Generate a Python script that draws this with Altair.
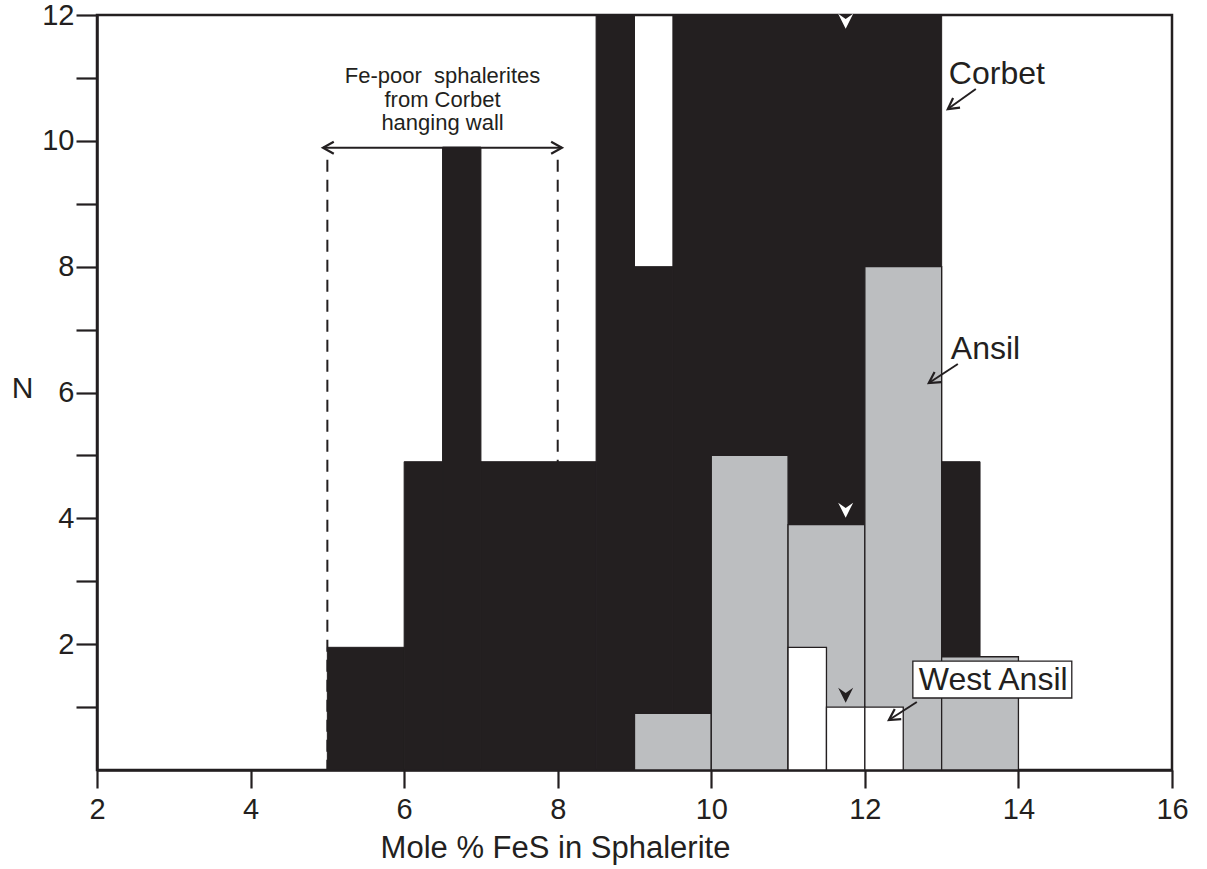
import altair as alt
import pandas as pd

INK = "#231f20"
GREY = "#bcbec0"
FONT = "Liberation Sans"

# Corbet histogram: bin edges and counts (the two tallest bins run past 12)
corbet_lo = [5, 6, 6.5, 7, 8.5, 9, 9.5, 13]
corbet_hi = [6, 6.5, 7, 8.5, 9, 9.5, 13, 13.5]
corbet_n = [1.95, 4.9, 9.9, 4.9, 12, 8, 12, 4.9]

# Ansil histogram
ansil_lo = [9, 10, 11, 12, 13]
ansil_hi = [10, 11, 12, 13, 14]
ansil_n = [0.9, 5, 3.9, 8, 1.8]

# West Ansil histogram
west_lo = [11, 11.5, 12]
west_hi = [11.5, 12, 12.5]
west_n = [1.95, 1, 1]

# median markers for each deposit
median_group = ["Corbet", "Ansil", "West Ansil"]
median_x = [11.75, 11.75, 11.75]
median_y = [11.9, 4.13, 1.19]
median_fill = ["white", "white", INK]

# Fe-poor hanging-wall range
range_lo, range_hi = 5, 8
range_arrow_y = 9.89
range_dash_top = 9.7

x_scale = alt.Scale(domain=[2, 16], nice=False, zero=False)
y_scale = alt.Scale(domain=[0, 12], nice=False, zero=False)

x_axis = alt.Axis(
    title="Mole % FeS in Sphalerite",
    values=list(range(2, 17, 2)),
    tickSize=18, labelPadding=7, grid=False, labelFlush=False,
    titleX=458, titleY=87, titleAlign="center", titleAnchor="start",
    titleBaseline="alphabetic", titleFontSize=31,
)
y_axis = alt.Axis(
    title="N",
    values=list(range(1, 13)),
    labelExpr="datum.value % 2 == 0 ? datum.label : ''",
    tickSize=21, labelPadding=2, grid=False, labelFlush=False,
    titleAngle=0, titleX=-75, titleY=373, titleAlign="center",
    titleBaseline="middle", titleFontSize=30,
)

corbet = pd.DataFrame({"lo": corbet_lo, "hi": corbet_hi, "n": corbet_n})
ansil = pd.DataFrame({"lo": ansil_lo, "hi": ansil_hi, "n": ansil_n})
west = pd.DataFrame({"lo": west_lo, "hi": west_hi, "n": west_n})
medians = pd.DataFrame({"group": median_group, "x": median_x, "y": median_y, "fill": median_fill})


def xs(field):
    return alt.X(field, type="quantitative", scale=x_scale, axis=x_axis)


def ys(field):
    return alt.Y(field, type="quantitative", scale=y_scale, axis=y_axis)


# dashed guides bounding the Fe-poor range
dash_df = pd.DataFrame({"x": [range_lo, range_hi], "top": [range_dash_top, range_dash_top]})
dashes = alt.Chart(dash_df).mark_rule(color=INK, strokeWidth=2, strokeDash=[12, 8]).encode(
    x=xs("x"), y=ys("top"), y2=alt.datum(0)
)

corbet_bars = alt.Chart(corbet).mark_rect(fill=INK, stroke=INK, strokeWidth=1, clip=True).encode(
    x=xs("lo"), x2="hi", y=ys("n"), y2=alt.datum(0)
)
ansil_bars = alt.Chart(ansil).mark_rect(fill=GREY, stroke=INK, strokeWidth=1.3).encode(
    x=xs("lo"), x2="hi", y=ys("n"), y2=alt.datum(0)
)
west_bars = alt.Chart(west).mark_rect(fill="white", stroke=INK, strokeWidth=1.3).encode(
    x=xs("lo"), x2="hi", y=ys("n"), y2=alt.datum(0)
)

chevron = "M-1,-1 L0,-0.3 L1,-1 L0,1 Z"
median_marks = alt.Chart(medians).mark_point(
    shape=chevron, size=225, filled=True, opacity=1, strokeWidth=0
).encode(
    x=xs("x"), y=ys("y"), fill=alt.Fill("fill:N", scale=None)
)

# double-headed arrow over the Fe-poor range
shaft_df = pd.DataFrame({"x": [4.943], "x2": [8.055], "y": [range_arrow_y]})
shaft = alt.Chart(shaft_df).mark_rule(color=INK, strokeWidth=2.2).encode(
    x=xs("x"), x2="x2", y=ys("y")
)

# label leader arrows (start -> tip)
leaders = pd.DataFrame({
    "x": [13.445, 13.211, 12.677],
    "y": [10.823, 6.453, 1.081],
    "x2": [13.08, 12.833, 12.313],
    "y2": [10.505, 6.151, 0.795],
})
leader_lines = alt.Chart(leaders).mark_rule(color=INK, strokeWidth=2).encode(
    x=xs("x"), y=ys("y"), x2="x2", y2="y2"
)

head_path = "M1.8,-1 L0,0 L1.8,1"
heads = pd.DataFrame({
    "x": [4.943, 8.055, 13.08, 12.833, 12.313],
    "y": [range_arrow_y, range_arrow_y, 10.505, 6.151, 0.795],
    "angle": [0, 180, 324.5, 326.8, 327.3],
})
arrow_heads = alt.Chart(heads).mark_point(
    shape=head_path, size=144, filled=False, color=INK, strokeWidth=2.2, opacity=1
).encode(
    x=xs("x"), y=ys("y"), angle=alt.Angle("angle:Q", scale=None)
)

# boxed label for West Ansil
box_df = pd.DataFrame({"x": [12.625], "x2": [14.695], "y": [1.144], "y2": [1.732]})
box = alt.Chart(box_df).mark_rect(fill="white", stroke=INK, strokeWidth=1.3).encode(
    x=xs("x"), x2="x2", y=ys("y"), y2="y2"
)

labels = pd.DataFrame({
    "text": ["Corbet", "Ansil", "West Ansil"],
    "x": [13.094, 13.12, 12.703],
    "y": [10.903, 6.532, 1.271],
})
label_text = alt.Chart(labels).mark_text(
    align="left", baseline="alphabetic", font=FONT, fontSize=32, color=INK
).encode(x=xs("x"), y=ys("y"), text="text:N")

note_df = pd.DataFrame({"text": ["Fe-poor\u00a0 sphalerites\nfrom Corbet\nhanging wall"],
                        "x": [6.5], "y": [10.918]})
note = alt.Chart(note_df).mark_text(
    align="center", baseline="alphabetic", font=FONT, fontSize=22, color=INK,
    lineBreak="\n", lineHeight=23.5
).encode(x=xs("x"), y=ys("y"), text="text:N")

chart = alt.layer(
    dashes, corbet_bars, ansil_bars, west_bars, median_marks,
    shaft, leader_lines, arrow_heads, box, label_text, note
).properties(
    width=1075, height=755,
    padding={"left": 97, "top": 15, "right": 35, "bottom": 99},
    autosize=alt.AutoSizeParams(type="none"),
    background="white",
).configure_view(
    stroke=INK, strokeWidth=2.5
).configure_axis(
    domainColor=INK, domainWidth=2.5, tickColor=INK, tickWidth=2.2,
    labelFont=FONT, labelFontSize=29, labelColor=INK,
    titleFont=FONT, titleColor=INK, titleFontWeight="normal",
)

chart.save("out.html", embed_options={"renderer": "svg", "actions": False})
